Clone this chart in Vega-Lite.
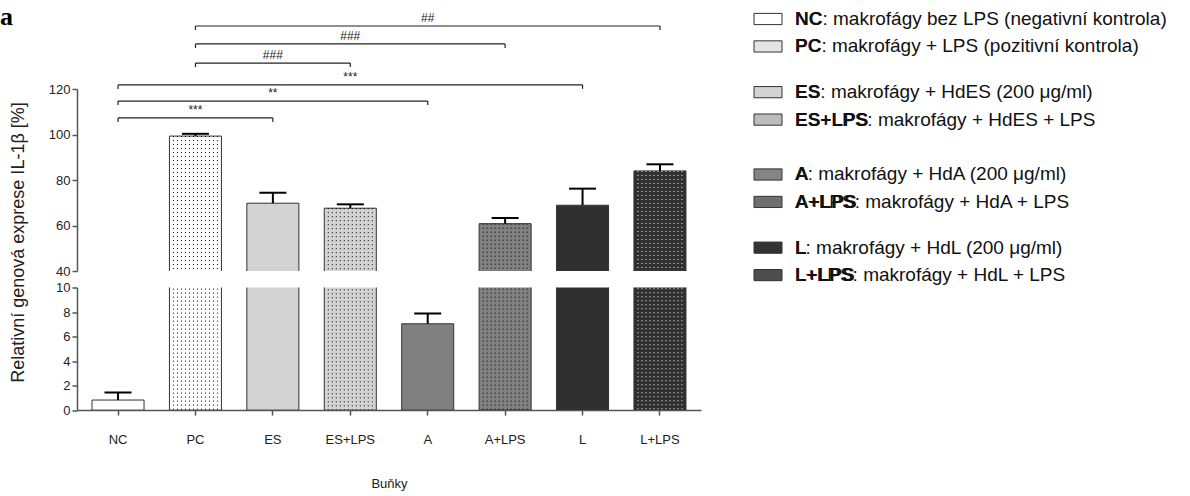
{
  "$schema": "https://vega.github.io/schema/vega-lite/v6.json",
  "background": "#ffffff",
  "padding": {"left": 0, "top": 3, "right": 0, "bottom": 0},
  "spacing": 51,
  "config": {
    "view": {"stroke": null},
    "font": "Liberation Sans",
    "axis": {
      "labelFont": "Liberation Sans",
      "titleFont": "Liberation Sans",
      "labelFontSize": 13,
      "labelColor": "#222222",
      "titleColor": "#222222",
      "domainColor": "#555555",
      "tickColor": "#555555",
      "domainWidth": 1.5,
      "tickWidth": 1.5,
      "tickSize": 5,
      "grid": false,
      "labelPadding": 2,
      "labelOverlap": false,
      "titleFontWeight": "normal"
    }
  },
  "datasets": {
    "bars": [
      {"cat": "NC", "value": 0.82, "hi": 1.44, "desc": "NC: makrofágy bez LPS (negativní kontrola)"},
      {"cat": "PC", "value": 99.3, "hi": 100.3, "desc": "PC: makrofágy + LPS (pozitivní kontrola)"},
      {"cat": "ES", "value": 69.8, "hi": 74.4, "desc": "ES: makrofágy + HdES (200 μg/ml)"},
      {"cat": "ES+LPS", "value": 67.6, "hi": 69.3, "desc": "ES+LPS: makrofágy + HdES + LPS"},
      {"cat": "A", "value": 7.04, "hi": 7.88, "desc": "A: makrofágy + HdA (200 μg/ml)"},
      {"cat": "A+LPS", "value": 60.8, "hi": 63.3, "desc": "A+LPS: makrofágy + HdA + LPS"},
      {"cat": "L", "value": 68.9, "hi": 76.2, "desc": "L: makrofágy + HdL (200 μg/ml)"},
      {"cat": "L+LPS", "value": 84.0, "hi": 86.9, "desc": "L+LPS: makrofágy + HdL + LPS"}
    ],
    "brackets": [
      {"from": "PC", "to": "L+LPS", "mid": "A", "level": 147.7, "sig": "##"},
      {"from": "PC", "to": "A+LPS", "mid": "ES+LPS", "level": 139.8, "sig": "###"},
      {"from": "PC", "to": "ES+LPS", "mid": "ES", "level": 131.4, "sig": "###"},
      {"from": "NC", "to": "L", "mid": "ES+LPS", "level": 121.8, "sig": "***"},
      {"from": "NC", "to": "A", "mid": "ES", "level": 114.7, "sig": "**"},
      {"from": "NC", "to": "ES", "mid": "PC", "level": 107.3, "sig": "***"}
    ]
  },
  "hconcat": [
    {
      "vconcat": [
        {
          "width": 624,
          "height": 182,
          "title": {"text": "a", "anchor": "start", "frame": "bounds", "font": "Liberation Serif", "fontSize": 26, "fontWeight": "bold", "color": "#000000", "offset": -39, "dx": -9, "baseline": "alphabetic"},
          "layer": [
            {
              "data": {"name": "bars"},
              "mark": {"type": "bar", "clip": true, "stroke": "#333333", "strokeWidth": 1},
              "encoding": {
                "x": {"field": "cat", "type": "nominal", "scale": {"domain": ["NC","PC","ES","ES+LPS","A","A+LPS","L","L+LPS"], "paddingInner": 0.328, "paddingOuter": 0.194}, "axis": null},
                "y": {"field": "value", "type": "quantitative", "scale": {"domain": [40, 120], "nice": false, "zero": false},
                      "axis": {"values": [40, 60, 80, 100, 120], "tickCount": 5, "labelOverlap": false, "title": "Relativní genová exprese IL-1β [%]", "titleFontSize": 18, "titleX": -50, "titleY": 153}},
                "fill": {"field": "cat", "type": "nominal", "scale": {"domain": ["NC","PC","ES","ES+LPS","A","A+LPS","L","L+LPS"], "range": ["#ffffff","#ffffff","#d3d3d3","#d3d3d3","#808080","#808080","#303030","#303030"]}, "legend": null}
              }
            },
            {
              "data": {"name": "bars"},
              "transform": [{"filter": {"field": "cat", "oneOf": ["PC","ES+LPS","A+LPS","L+LPS"]}}],
              "encoding": {
                "x": {"field": "cat", "type": "nominal", "scale": {"domain": ["NC","PC","ES","ES+LPS","A","A+LPS","L","L+LPS"], "paddingInner": 0.328, "paddingOuter": 0.194}, "axis": null},
                "y": {"field": "value", "type": "quantitative"},
                "y2": {"datum": 0},
                "stroke": {"condition": {"test": "datum.cat === 'L+LPS'", "value": "#ffffff"}, "value": "#000000"}
              },
              "layer": [
                {"mark": {"type": "rule", "clip": true, "strokeWidth": 1, "strokeDash": [1, 3], "xOffset": -22}, "encoding": {}},
                {"mark": {"type": "rule", "clip": true, "strokeWidth": 1, "strokeDash": [1, 3], "xOffset": -18}, "encoding": {}},
                {"mark": {"type": "rule", "clip": true, "strokeWidth": 1, "strokeDash": [1, 3], "xOffset": -14}, "encoding": {}},
                {"mark": {"type": "rule", "clip": true, "strokeWidth": 1, "strokeDash": [1, 3], "xOffset": -10}, "encoding": {}},
                {"mark": {"type": "rule", "clip": true, "strokeWidth": 1, "strokeDash": [1, 3], "xOffset": -6}, "encoding": {}},
                {"mark": {"type": "rule", "clip": true, "strokeWidth": 1, "strokeDash": [1, 3], "xOffset": -2}, "encoding": {}},
                {"mark": {"type": "rule", "clip": true, "strokeWidth": 1, "strokeDash": [1, 3], "xOffset": 2}, "encoding": {}},
                {"mark": {"type": "rule", "clip": true, "strokeWidth": 1, "strokeDash": [1, 3], "xOffset": 6}, "encoding": {}},
                {"mark": {"type": "rule", "clip": true, "strokeWidth": 1, "strokeDash": [1, 3], "xOffset": 10}, "encoding": {}},
                {"mark": {"type": "rule", "clip": true, "strokeWidth": 1, "strokeDash": [1, 3], "xOffset": 14}, "encoding": {}},
                {"mark": {"type": "rule", "clip": true, "strokeWidth": 1, "strokeDash": [1, 3], "xOffset": 18}, "encoding": {}},
                {"mark": {"type": "rule", "clip": true, "strokeWidth": 1, "strokeDash": [1, 3], "xOffset": 22}, "encoding": {}}
              ]
            },
            {
              "data": {"name": "bars"},
              "mark": {"type": "rule", "clip": true, "strokeWidth": 2, "color": "#000000"},
              "encoding": {
                "x": {"field": "cat", "type": "nominal", "scale": {"domain": ["NC","PC","ES","ES+LPS","A","A+LPS","L","L+LPS"], "paddingInner": 0.328, "paddingOuter": 0.194}, "axis": null},
                "y": {"field": "value", "type": "quantitative"},
                "y2": {"field": "hi"}
              }
            },
            {
              "data": {"name": "bars"},
              "mark": {"type": "tick", "clip": true, "thickness": 2, "size": 27, "color": "#000000", "opacity": 1},
              "encoding": {
                "x": {"field": "cat", "type": "nominal", "scale": {"domain": ["NC","PC","ES","ES+LPS","A","A+LPS","L","L+LPS"], "paddingInner": 0.328, "paddingOuter": 0.194}, "axis": null},
                "y": {"field": "hi", "type": "quantitative"}
              }
            },
            {
              "data": {"name": "brackets"},
              "mark": {"type": "rule", "strokeWidth": 1.2, "color": "#222222"},
              "encoding": {
                "x": {"field": "from", "type": "nominal", "scale": {"domain": ["NC","PC","ES","ES+LPS","A","A+LPS","L","L+LPS"], "paddingInner": 0.328, "paddingOuter": 0.194}, "axis": null},
                "x2": {"field": "to"},
                "y": {"field": "level", "type": "quantitative"}
              }
            },
            {
              "data": {"name": "brackets"},
              "mark": {"type": "point", "shape": "M0,0V1", "size": 64, "filled": false, "strokeWidth": 1.2, "color": "#222222", "opacity": 1},
              "encoding": {
                "x": {"field": "from", "type": "nominal", "scale": {"domain": ["NC","PC","ES","ES+LPS","A","A+LPS","L","L+LPS"], "paddingInner": 0.328, "paddingOuter": 0.194}, "axis": null},
                "y": {"field": "level", "type": "quantitative"}
              }
            },
            {
              "data": {"name": "brackets"},
              "mark": {"type": "point", "shape": "M0,0V1", "size": 64, "filled": false, "strokeWidth": 1.2, "color": "#222222", "opacity": 1},
              "encoding": {
                "x": {"field": "to", "type": "nominal", "scale": {"domain": ["NC","PC","ES","ES+LPS","A","A+LPS","L","L+LPS"], "paddingInner": 0.328, "paddingOuter": 0.194}, "axis": null},
                "y": {"field": "level", "type": "quantitative"}
              }
            },
            {
              "data": {"name": "brackets"},
              "mark": {"type": "text", "fontSize": 12, "dy": -4, "baseline": "alphabetic", "color": "#222222"},
              "encoding": {
                "x": {"field": "mid", "type": "nominal", "scale": {"domain": ["NC","PC","ES","ES+LPS","A","A+LPS","L","L+LPS"], "paddingInner": 0.328, "paddingOuter": 0.194}, "axis": null},
                "y": {"field": "level", "type": "quantitative"},
                "text": {"field": "sig"}
              }
            }
          ]
        },
        {
          "width": 624,
          "height": 122.6,
          "layer": [
            {
              "data": {"name": "bars"},
              "mark": {"type": "bar", "clip": true, "stroke": "#333333", "strokeWidth": 1},
              "encoding": {
                "x": {"field": "cat", "type": "nominal", "scale": {"domain": ["NC","PC","ES","ES+LPS","A","A+LPS","L","L+LPS"], "paddingInner": 0.328, "paddingOuter": 0.194},
                      "axis": {"title": "Buňky", "labelAngle": 0, "labelPadding": 18, "labelFontSize": 13, "titleFontSize": 13, "titleY": 77, "titleBaseline": "alphabetic"}},
                "y": {"field": "value", "type": "quantitative", "scale": {"domain": [0, 10], "nice": false, "zero": false},
                      "axis": {"values": [0, 2, 4, 6, 8, 10], "tickCount": 6, "labelOverlap": false, "title": null}},
                "fill": {"field": "cat", "type": "nominal", "scale": {"domain": ["NC","PC","ES","ES+LPS","A","A+LPS","L","L+LPS"], "range": ["#ffffff","#ffffff","#d3d3d3","#d3d3d3","#808080","#808080","#303030","#303030"]}, "legend": null}
              }
            },
            {
              "data": {"name": "bars"},
              "transform": [{"filter": {"field": "cat", "oneOf": ["PC","ES+LPS","A+LPS","L+LPS"]}}],
              "encoding": {
                "x": {"field": "cat", "type": "nominal", "scale": {"domain": ["NC","PC","ES","ES+LPS","A","A+LPS","L","L+LPS"], "paddingInner": 0.328, "paddingOuter": 0.194}},
                "y": {"field": "value", "type": "quantitative"},
                "y2": {"datum": 0},
                "stroke": {"condition": {"test": "datum.cat === 'L+LPS'", "value": "#ffffff"}, "value": "#000000"}
              },
              "layer": [
                {"mark": {"type": "rule", "clip": true, "strokeWidth": 1, "strokeDash": [1, 3], "xOffset": -22}, "encoding": {}},
                {"mark": {"type": "rule", "clip": true, "strokeWidth": 1, "strokeDash": [1, 3], "xOffset": -18}, "encoding": {}},
                {"mark": {"type": "rule", "clip": true, "strokeWidth": 1, "strokeDash": [1, 3], "xOffset": -14}, "encoding": {}},
                {"mark": {"type": "rule", "clip": true, "strokeWidth": 1, "strokeDash": [1, 3], "xOffset": -10}, "encoding": {}},
                {"mark": {"type": "rule", "clip": true, "strokeWidth": 1, "strokeDash": [1, 3], "xOffset": -6}, "encoding": {}},
                {"mark": {"type": "rule", "clip": true, "strokeWidth": 1, "strokeDash": [1, 3], "xOffset": -2}, "encoding": {}},
                {"mark": {"type": "rule", "clip": true, "strokeWidth": 1, "strokeDash": [1, 3], "xOffset": 2}, "encoding": {}},
                {"mark": {"type": "rule", "clip": true, "strokeWidth": 1, "strokeDash": [1, 3], "xOffset": 6}, "encoding": {}},
                {"mark": {"type": "rule", "clip": true, "strokeWidth": 1, "strokeDash": [1, 3], "xOffset": 10}, "encoding": {}},
                {"mark": {"type": "rule", "clip": true, "strokeWidth": 1, "strokeDash": [1, 3], "xOffset": 14}, "encoding": {}},
                {"mark": {"type": "rule", "clip": true, "strokeWidth": 1, "strokeDash": [1, 3], "xOffset": 18}, "encoding": {}},
                {"mark": {"type": "rule", "clip": true, "strokeWidth": 1, "strokeDash": [1, 3], "xOffset": 22}, "encoding": {}}
              ]
            },
            {
              "data": {"name": "bars"},
              "mark": {"type": "rule", "clip": true, "strokeWidth": 2, "color": "#000000"},
              "encoding": {
                "x": {"field": "cat", "type": "nominal", "scale": {"domain": ["NC","PC","ES","ES+LPS","A","A+LPS","L","L+LPS"], "paddingInner": 0.328, "paddingOuter": 0.194}},
                "y": {"field": "value", "type": "quantitative"},
                "y2": {"field": "hi"}
              }
            },
            {
              "data": {"name": "bars"},
              "mark": {"type": "tick", "clip": true, "thickness": 2, "size": 27, "color": "#000000", "opacity": 1},
              "encoding": {
                "x": {"field": "cat", "type": "nominal", "scale": {"domain": ["NC","PC","ES","ES+LPS","A","A+LPS","L","L+LPS"], "paddingInner": 0.328, "paddingOuter": 0.194}},
                "y": {"field": "hi", "type": "quantitative"}
              }
            }
          ]
        }
      ],
      "spacing": 16.5,
      "bounds": "flush"
    },
    {
      "width": 400,
      "height": 130,
      "data": {"name": "bars"},
      "encoding": {
        "x": {"value": 0},
        "y": {"field": "cat", "type": "nominal", "axis": null,
              "scale": {"type": "point", "padding": 0, "range": [-70, 186.1],
                        "domain": ["NC"," 1"," 2","PC"," 3"," 4"," 5"," 6","ES"," 7"," 8","ES+LPS"," 9"," 10"," 11"," 12"," 13","A"," 14"," 15","A+LPS"," 16"," 17"," 18"," 19","L"," 20"," 21","L+LPS"]}}
      },
      "layer": [
        {
          "mark": {"type": "point", "shape": "M0,-0.4H2V0.4H0Z", "size": 784, "filled": true, "stroke": "#333333", "strokeWidth": 1, "opacity": 1},
          "encoding": {
            "color": {"field": "cat", "type": "nominal", "legend": null,
                      "scale": {"domain": ["NC","PC","ES","ES+LPS","A","A+LPS","L","L+LPS"], "range": ["#ffffff","#e4e4e4","#d3d3d3","#bcbcbc","#858585","#6f6f6f","#333333","#4d4d4d"]}}
          }
        },
        {
          "mark": {"type": "text", "align": "left", "baseline": "middle", "dx": 41, "fontSize": 19, "color": "#111111"},
          "encoding": {"text": {"field": "desc"}}
        },
        {
          "mark": {"type": "text", "align": "left", "baseline": "middle", "dx": 41, "fontSize": 19, "fontWeight": "bold", "color": "#111111"},
          "encoding": {"text": {"field": "cat"}}
        }
      ]
    }
  ]
}
